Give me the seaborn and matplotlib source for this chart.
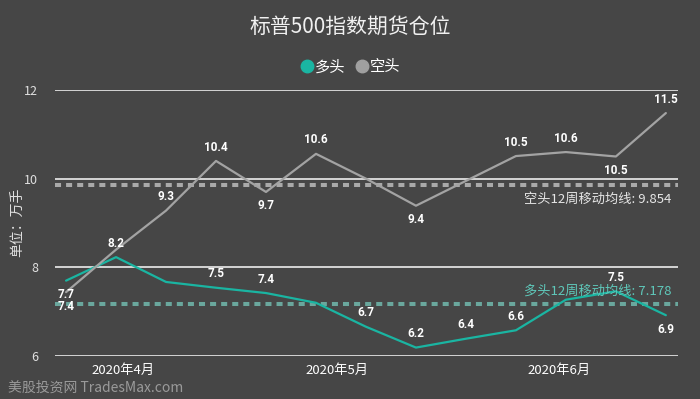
import numpy as np
import pandas as pd
import matplotlib
matplotlib.use("Agg")
import matplotlib.pyplot as plt
import matplotlib.dates as mdates
from matplotlib.lines import Line2D
import seaborn as sns

# 数据 (每周二, CFTC 持仓)
dates = pd.date_range("2020-03-24", periods=13, freq="7D")
long_vals = [7.70, 8.23, 7.67, 7.54, 7.42, 7.20, 6.66, 6.19, 6.39, 6.58, 7.27, 7.46, 6.92]
short_vals = [7.44, 8.40, 9.28, 10.40, 9.70, 10.56, 10.00, 9.39, 9.95, 10.51, 10.60, 10.50, 11.48]
long_ma = 7.178
short_ma = 9.854

# 标签显示位置: 索引 -> 上/下
long_label_pos = {0: "down", 1: "up", 3: "up", 4: "up", 6: "up", 7: "up",
                  8: "up", 9: "up", 11: "up", 12: "down"}
short_label_pos = {0: "down", 2: "up", 3: "up", 4: "down", 5: "up", 7: "down",
                   9: "up", 10: "up", 11: "down", 12: "up"}

bg = "#464646"
teal = "#1ab5a2"
grey = "#a3a3a3"

sns.set_style("dark", {"axes.facecolor": bg, "figure.facecolor": bg})
plt.rcParams["font.family"] = ["Noto Sans CJK SC", "DejaVu Sans"]

df = pd.DataFrame({"date": list(dates) * 2,
                   "value": long_vals + short_vals,
                   "kind": ["多头"] * 13 + ["空头"] * 13})

fig = plt.figure(figsize=(7, 3.99), dpi=100)
ax = fig.add_axes([55 / 700, 1 - 356 / 399, 623 / 700, 266 / 399])
ax.set_facecolor(bg)

# 网格线
for y in [6, 8, 10, 12]:
    ax.axhline(y, color="#d4d4d4", lw=1.4, zorder=1)

# 移动均线
ax.axhline(short_ma, color="#a9a9a9", lw=2.9, ls=(0, (1.5, 1.25)), zorder=2)
ax.axhline(long_ma, color="#6aa79d", lw=2.9, ls=(0, (1.5, 1.25)), zorder=2)

sns.lineplot(data=df, x="date", y="value", hue="kind",
             palette={"多头": teal, "空头": grey}, linewidth=1.6,
             legend=False, ax=ax, zorder=3)

def add_labels(vals, positions):
    for i, where in positions.items():
        off = 10 if where == "up" else -10
        ax.annotate(f"{vals[i]:.1f}", (dates[i], vals[i]), xytext=(0, off),
                    textcoords="offset points", ha="center", va="center",
                    fontsize=8.5, color="white", fontweight="bold",
                    family=["Roboto", "DejaVu Sans"], zorder=5)

add_labels(long_vals, long_label_pos)
add_labels(short_vals, short_label_pos)

ax.text(0.99, short_ma - 0.32, "空头12周移动均线: 9.854", transform=ax.get_yaxis_transform(),
        ha="right", va="center", fontsize=9.5, color="#e6e6e6")
ax.text(0.99, long_ma + 0.28, "多头12周移动均线: 7.178", transform=ax.get_yaxis_transform(),
        ha="right", va="center", fontsize=9.5, color="#5fc8ba")

ax.set_xlim(dates[0] - pd.Timedelta(days=1.55), dates[-1] + pd.Timedelta(days=1.7))
ax.set_ylim(6, 12)
ax.set_yticks([6, 8, 10, 12])
ax.tick_params(axis="y", colors="#e0e0e0", labelsize=9, length=0, pad=12)
ax.xaxis.set_major_locator(mdates.MonthLocator())
ax.xaxis.set_major_formatter(mdates.DateFormatter("%Y年%-m月"))
ax.tick_params(axis="x", colors="white", labelsize=9.5, length=0, pad=6)
for s in ax.spines.values():
    s.set_visible(False)
ax.set_xlabel("")
ax.set_ylabel("")
ax.grid(False)

fig.text(17 / 700, 1 - 222 / 399, "单位：万手", rotation=90, ha="center", va="center",
         fontsize=10, color="#e0e0e0")
fig.text(0.5, 1 - 27 / 399, "标普500指数期货仓位", ha="center", va="center",
         fontsize=15, color="#f0f0f0")

handles = [Line2D([], [], marker="o", ls="", color=teal, markersize=9),
           Line2D([], [], marker="o", ls="", color="#a0a0a0", markersize=9)]
fig.legend(handles, ["多头", "空头"], loc="center", bbox_to_anchor=(0.5, 1 - 67 / 399),
           ncol=2, frameon=False, fontsize=11, labelcolor="white",
           handletextpad=0.0, columnspacing=0.6, handlelength=1.0)

fig.text(8 / 700, 1 - 388 / 399, "美股投资网 TradesMax.com", ha="left", va="center",
         fontsize=10, color="#9a9a9a")

fig.savefig("out.png", dpi=100, facecolor=bg)
